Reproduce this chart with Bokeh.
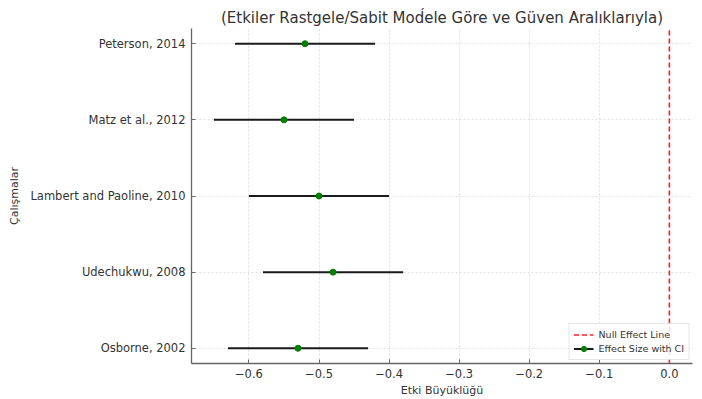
from bokeh.plotting import figure
from bokeh.models import Range1d, FixedTicker, Legend, LegendItem, ColumnDataSource
from bokeh.embed import file_html
from bokeh.resources import INLINE

studies = ["Osborne, 2002", "Udechukwu, 2008", "Lambert and Paoline, 2010", "Matz et al., 2012", "Peterson, 2014"]
effect = [-0.53, -0.48, -0.50, -0.55, -0.52]
ci_low = [-0.63, -0.58, -0.60, -0.65, -0.62]
ci_high = [-0.43, -0.38, -0.40, -0.45, -0.42]
x_ticks = [-0.6, -0.5, -0.4, -0.3, -0.2, -0.1, 0.0]
x_tick_labels = ["\u22120.6", "\u22120.5", "\u22120.4", "\u22120.3", "\u22120.2", "\u22120.1", "0.0"]
null_x = [0.0, 0.0]
null_y = [-0.2, 4.2]

FONT = "DejaVu Sans"
TXT = "#333333"

ypos = list(range(len(studies)))
src = ColumnDataSource(dict(y=ypos, eff=effect, lo=ci_low, hi=ci_high))

p = figure(width=702, height=399, output_backend="svg", toolbar_location=None,
           x_range=Range1d(-0.682, 0.033), y_range=Range1d(-0.2, 4.2),
           min_border_left=191, min_border_right=10, min_border_top=28, min_border_bottom=34)
p.title.text = "(Etkiler Rastgele/Sabit Mod\u0301ele Göre ve Güven Aralıklarıyla)"
p.title.align = "center"
p.title.text_font = FONT
p.title.text_font_size = "15px"
p.title.text_font_style = "normal"
p.title.text_color = TXT
p.title.offset = 0
p.title.standoff = 3

p.outline_line_color = None
p.background_fill_color = "white"

p.xgrid.grid_line_color = "#e0e0e0"
p.xgrid.grid_line_dash = "2 2"
p.ygrid.grid_line_color = "#e0e0e0"
p.ygrid.grid_line_dash = "2 2"

seg = p.segment(x0="lo", y0="y", x1="hi", y1="y", source=src, line_color="#1a1a1a", line_width=2)
pts = p.scatter(x="eff", y="y", source=src, size=6, fill_color="green", line_color="green")
null_line = p.line(x=null_x, y=null_y, line_color="#ff2020", line_dash="5 3", line_width=1.6)

p.xaxis.ticker = FixedTicker(ticks=x_ticks)
p.xaxis.major_label_overrides = {t: l for t, l in zip(x_ticks, x_tick_labels)}
p.yaxis.ticker = FixedTicker(ticks=ypos)
p.yaxis.major_label_overrides = {i: s for i, s in enumerate(studies)}

for ax in (p.xaxis[0], p.yaxis[0]):
    ax.major_label_text_font = FONT
    ax.major_label_text_font_size = "11.5px"
    ax.major_label_text_color = TXT
    ax.axis_label_text_font = FONT
    ax.axis_label_text_font_size = "11px"
    ax.axis_label_text_font_style = "normal"
    ax.axis_label_text_color = TXT
    ax.axis_line_color = "#666666"
    ax.axis_line_width = 1.3
    ax.major_tick_line_color = "#666666"
    ax.major_tick_in = 4
    ax.major_tick_out = 0
    ax.minor_tick_line_color = None

p.xaxis.axis_label = "Etki Büyüklüğü"
p.yaxis.axis_label = "Çalışmalar"
p.xaxis.axis_label_standoff = 3
p.yaxis.axis_label_standoff = 6
p.yaxis.major_label_standoff = 6
p.xaxis.major_label_standoff = 5

legend = Legend(items=[
    LegendItem(label="Null Effect Line", renderers=[null_line]),
    LegendItem(label="Effect Size with CI", renderers=[seg, pts]),
], location="bottom_right")
legend.label_text_font = FONT
legend.label_text_font_size = "9.5px"
legend.label_text_color = TXT
legend.glyph_width = 20
legend.glyph_height = 13
legend.label_height = 13
legend.spacing = 1
legend.padding = 4
legend.margin = 3
legend.border_line_color = "#cccccc"
legend.background_fill_alpha = 0.85
p.add_layout(legend)

open("out.html", "w").write(file_html(p, INLINE))
